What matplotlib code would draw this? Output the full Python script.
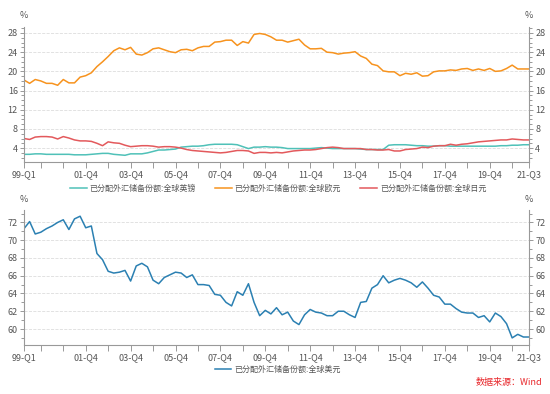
import matplotlib
matplotlib.use("Agg")
import matplotlib.pyplot as plt
from matplotlib.ticker import MultipleLocator, FixedLocator

plt.rcParams["font.family"] = ["Noto Sans CJK SC", "DejaVu Sans"]

# quarters 1999-Q1 .. 2021-Q3
quarters = [f"{y % 100:02d}-Q{q}" for y in range(1999, 2022) for q in range(1, 5)][:91]
label_quarters = ["99-Q1", "01-Q4", "03-Q4", "05-Q4", "07-Q4", "09-Q4", "11-Q4",
                  "13-Q4", "15-Q4", "17-Q4", "19-Q4", "21-Q3"]

gbp = [2.7, 2.7, 2.8, 2.8, 2.7, 2.7, 2.7, 2.7, 2.7, 2.6, 2.6, 2.6, 2.7, 2.8, 2.9, 2.9,
       2.7, 2.6, 2.5, 2.8, 2.8, 2.8, 3.0, 3.3, 3.6, 3.6, 3.7, 3.8, 4.2, 4.3, 4.4, 4.4,
       4.5, 4.7, 4.8, 4.8, 4.8, 4.8, 4.7, 4.3, 3.9, 4.2, 4.2, 4.3, 4.2, 4.2, 4.1, 3.9,
       3.9, 3.9, 3.9, 3.9, 4.0, 4.1, 4.0, 3.9, 3.9, 3.9, 3.9, 3.9, 3.8, 3.7, 3.7, 3.7,
       3.7, 4.6, 4.7, 4.7, 4.7, 4.6, 4.5, 4.5, 4.4, 4.4, 4.5, 4.5, 4.4, 4.4, 4.4, 4.4,
       4.4, 4.4, 4.4, 4.4, 4.4, 4.5, 4.5, 4.6, 4.6, 4.7, 4.7]
eur = [18.2, 17.5, 18.3, 18.0, 17.5, 17.5, 17.1, 18.3, 17.6, 17.6, 18.8, 19.1, 19.7,
       21.0, 22.0, 23.1, 24.3, 24.9, 24.5, 25.0, 23.6, 23.4, 23.9, 24.7, 24.9, 24.5,
       24.1, 23.9, 24.5, 24.6, 24.3, 24.9, 25.2, 25.2, 26.1, 26.2, 26.5, 26.5, 25.4,
       26.2, 25.9, 27.7, 27.9, 27.7, 27.2, 26.5, 26.5, 26.1, 26.4, 26.7, 25.5, 24.7,
       24.7, 24.8, 24.0, 23.9, 23.6, 23.8, 23.9, 24.1, 23.2, 22.7, 21.5, 21.2, 20.1,
       19.9, 19.9, 19.1, 19.6, 19.4, 19.7, 19.0, 19.1, 19.9, 20.1, 20.1, 20.3, 20.2,
       20.5, 20.6, 20.2, 20.5, 20.2, 20.6, 20.0, 20.1, 20.6, 21.3, 20.5, 20.5, 20.5]
jpy = [6.0, 5.8, 6.3, 6.4, 6.4, 6.3, 5.9, 6.4, 6.1, 5.7, 5.5, 5.5, 5.4, 5.0, 4.5, 5.3,
       5.1, 5.0, 4.6, 4.3, 4.4, 4.5, 4.5, 4.4, 4.2, 4.3, 4.3, 4.2, 4.0, 3.7, 3.5, 3.4,
       3.3, 3.2, 3.1, 3.0, 3.1, 3.3, 3.5, 3.5, 3.4, 2.9, 3.1, 3.1, 3.0, 3.1, 3.0, 3.2,
       3.4, 3.5, 3.6, 3.6, 3.7, 3.9, 4.1, 4.2, 4.1, 3.9, 3.9, 3.9, 3.9, 3.7, 3.7, 3.6,
       3.6, 3.7, 3.4, 3.4, 3.7, 3.8, 3.9, 4.2, 4.1, 4.4, 4.5, 4.5, 4.8, 4.6, 4.8, 4.9,
       5.1, 5.3, 5.4, 5.5, 5.6, 5.7, 5.7, 5.9, 5.8, 5.7, 5.7]
usd = [71.3, 72.1, 70.7, 70.9, 71.3, 71.6, 72.0, 72.3, 71.2, 72.4, 72.7, 71.4, 71.6,
       68.5, 67.8, 66.5, 66.3, 66.4, 66.6, 65.4, 67.1, 67.4, 67.0, 65.5, 65.1, 65.8,
       66.1, 66.4, 66.3, 65.8, 66.1, 65.0, 65.0, 64.9, 63.9, 63.8, 63.0, 62.6, 64.2,
       63.8, 65.1, 63.0, 61.5, 62.1, 61.7, 62.4, 61.6, 61.9, 60.9, 60.5, 61.6, 62.2,
       61.9, 61.8, 61.5, 61.5, 62.0, 62.0, 61.6, 61.3, 63.0, 63.1, 64.6, 65.0, 66.0,
       65.2, 65.5, 65.7, 65.5, 65.2, 64.7, 65.3, 64.6, 63.8, 63.6, 62.8, 62.8, 62.3,
       61.9, 61.8, 61.8, 61.3, 61.5, 60.8, 61.8, 61.4, 60.6, 59.0, 59.4, 59.1, 59.1]

names = ["已分配外汇储备份额:全球英镑", "已分配外汇储备份额:全球欧元",
         "已分配外汇储备份额:全球日元", "已分配外汇储备份额:全球美元"]
colors = ["#4fc1b8", "#f7931e", "#e3595c", "#2b80b2"]

x = list(range(len(quarters)))
label_pos = [quarters.index(q) for q in label_quarters]
minor_pos = [0] + list(range(3, 91, 4)) + [90]

fig = plt.figure(figsize=(5.5, 3.94), dpi=100)
ax1 = fig.add_axes([24 / 550, 1 - 162 / 394, 505 / 550, 135 / 394])
ax2 = fig.add_axes([24 / 550, 1 - 345 / 394, 505 / 550, 135 / 394])

ax1.plot(x, gbp, color=colors[0], lw=1.1, label=names[0])
ax1.plot(x, eur, color=colors[1], lw=1.1, label=names[1])
ax1.plot(x, jpy, color=colors[2], lw=1.1, label=names[2])
ax2.plot(x, usd, color=colors[3], lw=1.1, label=names[3])

ax1.set_ylim(1.1, 29.25)
ax1.set_yticks(range(4, 29, 4))
ax2.set_ylim(58.2, 73.4)
ax2.set_yticks(range(60, 73, 2))

for ax in (ax1, ax2):
    ax.set_xlim(0, 90)
    ax.xaxis.set_major_locator(FixedLocator(label_pos))
    ax.set_xticklabels(label_quarters)
    ax.xaxis.set_minor_locator(FixedLocator(minor_pos))
    ax.yaxis.set_minor_locator(MultipleLocator(1))
    ax.spines["top"].set_visible(False)
    for s in ("left", "right", "bottom"):
        ax.spines[s].set_color("#999999")
        ax.spines[s].set_linewidth(0.8)
    ax.tick_params(axis="both", which="both", colors="#999999", labelcolor="#555555",
                   labelsize=6.5, width=0.7)
    ax.tick_params(axis="y", which="both", left=True, right=True,
                   labelleft=True, labelright=True, pad=1.5)
    ax.tick_params(axis="y", which="major", length=3)
    ax.tick_params(axis="y", which="minor", length=2)
    ax.tick_params(axis="x", which="both", length=4, pad=2)
    ax.grid(axis="y", which="major", color="#dddddd", ls="--", lw=0.6)
    ax.set_facecolor("none")

for px, py in [(24, 16), (529, 16), (24, 200), (529, 200)]:
    fig.text(px / 550, 1 - py / 394, "%", ha="center", va="center",
             fontsize=6.5, color="#555555")

fig.legend(handles=ax1.get_lines(), loc="center", bbox_to_anchor=(0.506, 1 - 188 / 394),
           ncol=3, frameon=False, fontsize=5.8, labelcolor="#555555",
           handlelength=2.0, columnspacing=2.4, handletextpad=0.4)
fig.legend(handles=ax2.get_lines(), loc="center", bbox_to_anchor=(0.505, 1 - 369 / 394),
           ncol=1, frameon=False, fontsize=5.8, labelcolor="#555555",
           handlelength=2.0, handletextpad=0.4)

fig.text(542 / 550, 1 - 383 / 394, "数据来源：Wind", ha="right", va="center",
         fontsize=6.5, color="#e8262a")

fig.savefig("out.png", dpi=100)
